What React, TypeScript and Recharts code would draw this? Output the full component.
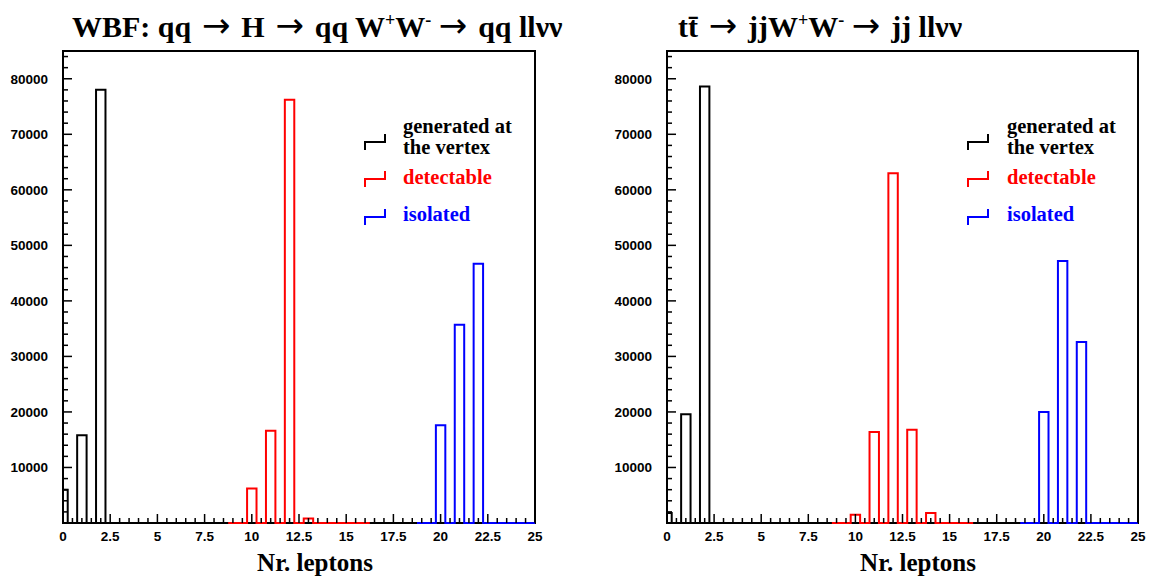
import React from "react";
import { LineChart, Line, XAxis, YAxis, ReferenceArea } from "recharts";

// counts per number of leptons; "detectable" is shifted by +10, "isolated" by +20
// first entry of each array is the bin centred on the given start value
const wbfVertex = [6000, 15800, 78000, 0, 0, 0, 0, 0, 0]; // n = 0..8
const wbfDetectable = [0, 6200, 16600, 76200, 800, 0, 0, 0]; // n = 9..16
const wbfIsolated = [0, 17600, 35700, 46700, 0, 0, 0]; // n = 19..25

const ttVertex = [1800, 19600, 78600, 0, 0, 0, 0, 0, 0];
const ttDetectable = [0, 1500, 16400, 63000, 16800, 1800, 0, 0];
const ttIsolated = [0, 20000, 47200, 32600, 0, 0, 0];

const VERTEX_START = 0;
const DETECT_START = 9;
const ISO_START = 19;

const xLabels = ["0", "2.5", "5", "7.5", "10", "12.5", "15", "17.5", "20", "22.5", "25"];
const yLabels = [10000, 20000, 30000, 40000, 50000, 60000, 70000, 80000];
const xTicks = Array.from({ length: 51 }, (_, i) => i * 0.5);
const yTicks = Array.from({ length: 43 }, (_, i) => i * 2000);
const Y_MAX = 85000;

const SANS = "'Liberation Sans', Arial, sans-serif";
const SERIF = "'Liberation Serif', 'Times New Roman', serif";
const X_GAP = 8;
const Y_GAP = 15;

// histogram with 0.5 wide bins centred on n, n+0.5, n+1 ... (half-integer bins are empty)
function toSteps(start: number, counts: number[]) {
  const pts: { x: number; y: number }[] = [{ x: start - 0.25, y: 0 }];
  counts.forEach((c, i) => {
    pts.push({ x: start + i - 0.25, y: c });
    if (i < counts.length - 1) pts.push({ x: start + i + 0.25, y: 0 });
  });
  pts.push({ x: start + counts.length - 1 + 0.25, y: 0 });
  return pts;
}

function XTick({ x, y, payload }: any) {
  const v = payload.value as number;
  const major = Math.abs(v / 2.5 - Math.round(v / 2.5)) < 1e-6;
  const axisY = y - X_GAP;
  const label = xLabels.find((l) => Math.abs(parseFloat(l) - v) < 1e-6);
  return (
    <g>
      <line x1={x} x2={x} y1={axisY} y2={axisY - (major ? 9 : 5)} stroke="#000" strokeWidth={1.5} />
      {major && label && (
        <text x={x} y={y} dy="0.71em" textAnchor="middle" fontSize={13.5} fontWeight="bold" fontFamily={SANS} fill="#000">
          {label}
        </text>
      )}
    </g>
  );
}

function YTick({ x, y, payload }: any) {
  const v = payload.value as number;
  const major = v % 10000 === 0;
  const axisX = x + Y_GAP;
  return (
    <g>
      <line x1={axisX} x2={axisX + (major ? 9 : 5)} y1={y} y2={y} stroke="#000" strokeWidth={1.5} />
      {yLabels.includes(v) && (
        <text x={x} y={y} dy="0.355em" textAnchor="end" fontSize={13.5} fontWeight="bold" fontFamily={SANS} fill="#000">
          {v}
        </text>
      )}
    </g>
  );
}

function Panel({
  vertex,
  detectable,
  isolated,
  left,
  width,
  margin,
}: {
  vertex: number[];
  detectable: number[];
  isolated: number[];
  left: number;
  width: number;
  margin: { top: number; right: number; bottom: number; left: number };
}) {
  return (
    <div style={{ position: "absolute", left, top: 0 }}>
      <LineChart width={width} height={577} margin={margin}>
        <XAxis
          type="number"
          dataKey="x"
          domain={[0, 25]}
          allowDataOverflow
          ticks={xTicks}
          interval={0}
          tick={<XTick />}
          tickLine={false}
          tickSize={0}
          tickMargin={X_GAP}
          axisLine={false}
          height={30}
        />
        <YAxis
          type="number"
          domain={[0, Y_MAX]}
          ticks={yTicks}
          interval={0}
          tick={<YTick />}
          tickLine={false}
          tickSize={0}
          tickMargin={Y_GAP}
          axisLine={false}
          width={50}
        />
        <ReferenceArea x1={0} x2={25} y1={0} y2={Y_MAX} fill="none" stroke="#000" strokeWidth={2} />
        <Line data={toSteps(VERTEX_START, vertex)} dataKey="y" type="stepAfter" stroke="#000" strokeWidth={2} dot={false} isAnimationActive={false} />
        <Line data={toSteps(DETECT_START, detectable)} dataKey="y" type="stepAfter" stroke="#ff0000" strokeWidth={2} dot={false} isAnimationActive={false} />
        <Line data={toSteps(ISO_START, isolated)} dataKey="y" type="stepAfter" stroke="#0000ff" strokeWidth={2} dot={false} isAnimationActive={false} />
      </LineChart>
    </div>
  );
}

function LegendBlock({ iconX, textX }: { iconX: number; textX: number }) {
  const icon = (y: number, color: string) => (
    <path d={`M${iconX},${y + 8} L${iconX},${y} L${iconX + 20},${y} L${iconX + 20},${y - 8}`} fill="none" stroke={color} strokeWidth={2} />
  );
  const t = { fontSize: 20.5, fontWeight: "bold" as const, fontFamily: SERIF };
  return (
    <g>
      {icon(142, "#000")}
      <text x={textX} y={133} fill="#000" {...t}>generated at</text>
      <text x={textX} y={154} fill="#000" {...t}>the vertex</text>
      {icon(179, "#ff0000")}
      <text x={textX} y={184} fill="#ff0000" {...t}>detectable</text>
      {icon(217, "#0000ff")}
      <text x={textX} y={221} fill="#0000ff" {...t}>isolated</text>
    </g>
  );
}

function Arrow() {
  return (
    <tspan fontFamily="'DejaVu Sans', sans-serif" fontWeight="normal" fontSize={34}>
      {" \u2192 "}
    </tspan>
  );
}

export default function App() {
  const title = { fontSize: 30, fontWeight: "bold" as const, fontFamily: SERIF, fill: "#000" };
  const axisTitle = { fontSize: 25, fontWeight: "bold" as const, fontFamily: SERIF, fill: "#000", textAnchor: "middle" as const };
  return (
    <div style={{ position: "relative", width: 1153, height: 577, background: "#fff" }}>
      <style>{`body{margin:0}`}</style>
      <Panel vertex={wbfVertex} detectable={wbfDetectable} isolated={wbfIsolated} left={0} width={576} margin={{ top: 51, right: 41, bottom: 24, left: 13 }} />
      <Panel vertex={ttVertex} detectable={ttDetectable} isolated={ttIsolated} left={576} width={577} margin={{ top: 51, right: 15, bottom: 24, left: 41 }} />
      <svg width={1153} height={577} style={{ position: "absolute", left: 0, top: 0, pointerEvents: "none" }}>
        <text x={72} y={37} {...title}>
          <tspan>WBF: qq</tspan>
          <Arrow />
          <tspan>H</tspan>
          <Arrow />
          <tspan>qq W</tspan>
          <tspan dy={-11} fontSize={18}>+</tspan>
          <tspan dy={11}>W</tspan>
          <tspan dy={-11} fontSize={18}>-</tspan>
          <tspan dy={11}> </tspan>
          <Arrow />
          <tspan>qq llνν</tspan>
        </text>
        <text x={678} y={37} {...title}>
          <tspan>{"tt\u0304"}</tspan>
          <Arrow />
          <tspan>jjW</tspan>
          <tspan dy={-11} fontSize={18}>+</tspan>
          <tspan dy={11}>W</tspan>
          <tspan dy={-11} fontSize={18}>-</tspan>
          <tspan dy={11}> </tspan>
          <Arrow />
          <tspan>jj llνν</tspan>
        </text>
        <text x={315} y={571} {...axisTitle}>Nr. leptons</text>
        <text x={918} y={571} {...axisTitle}>Nr. leptons</text>
        <LegendBlock iconX={365} textX={403} />
        <LegendBlock iconX={968} textX={1007} />
      </svg>
    </div>
  );
}
